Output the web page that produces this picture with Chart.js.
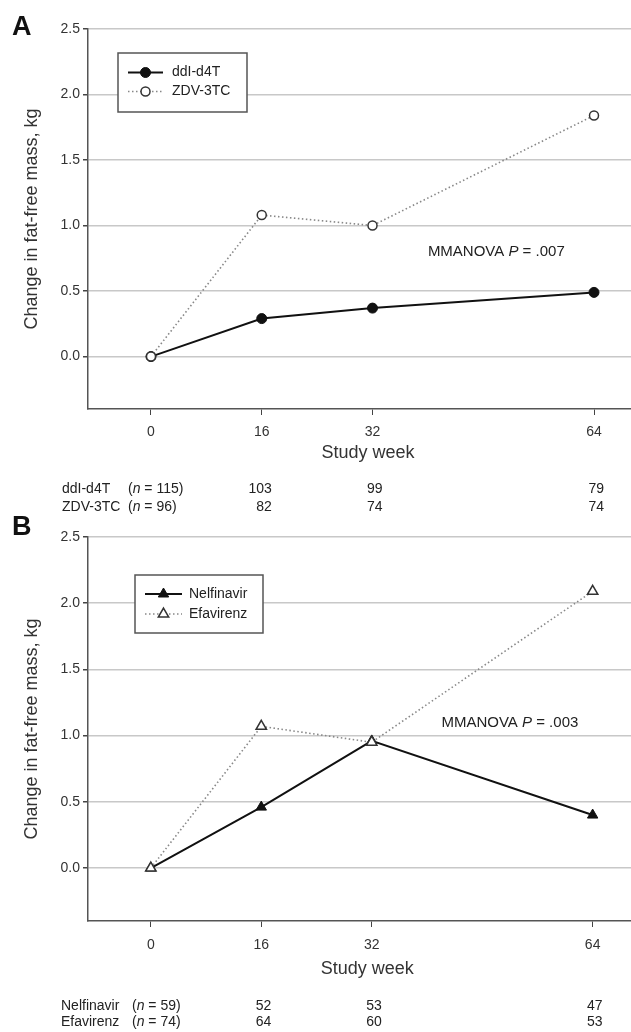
<!DOCTYPE html>
<html><head><meta charset="utf-8">
<script src="https://cdn.jsdelivr.net/npm/chart.js@4"></script>
<style>
html,body{margin:0;padding:0;background:#fff;}
#wrap{position:relative;width:631px;height:1032px;overflow:hidden;background:#fff;}
.pane{position:absolute;left:0;width:654px;}
canvas{display:block;}
</style></head><body>
<div id="wrap">
<div class="pane" style="top:0;height:524px"><canvas id="cA" width="654" height="524"></canvas></div>
<div class="pane" style="top:508px;height:524px"><canvas id="cB" width="654" height="524"></canvas></div>
</div>
<script>
// ---- data ----
const weeks = [0, 16, 32, 64];
const xTicks = [0, 16, 32, 64];
const yTicks = [0.0, 0.5, 1.0, 1.5, 2.0, 2.5];

const namesA = ['ddI-d4T', 'ZDV-3TC'];
const ddiD4T = [0, 0.29, 0.37, 0.49];
const zdv3TC = [0, 1.08, 1.00, 1.84];
const nTotalA = [115, 96];
const nDdiD4T = [103, 99, 79];
const nZdv3TC = [82, 74, 74];
const pTextA = ['MMANOVA ', 'P', ' = .007'];

const namesB = ['Nelfinavir', 'Efavirenz'];
const nelfinavir = [0, 0.46, 0.96, 0.40];
const efavirenz = [0, 1.07, 0.95, 2.09];
const nTotalB = [59, 74];
const nNelfinavir = [52, 53, 47];
const nEfavirenz = [64, 60, 53];
const pTextB = ['MMANOVA ', 'P', ' = .003'];

const FAM = '"Liberation Sans", Arial, Helvetica, sans-serif';

function drawRich(ctx, parts, x, y, size) {
  let cx = x;
  parts.forEach(p => {
    ctx.font = (p.italic ? 'italic ' : '') + size + 'px ' + FAM;
    ctx.fillText(p.t, cx, y);
    cx += ctx.measureText(p.t).width;
  });
}

const extras = {
  id: 'panelExtras',
  afterDraw(chart, args, o) {
    const ctx = chart.ctx, xs = chart.scales.x, ys = chart.scales.y;
    ctx.save();
    ctx.fillStyle = '#111';
    ctx.textAlign = 'left';
    ctx.textBaseline = 'alphabetic';
    ctx.font = 'bold 27px ' + FAM;
    ctx.fillText(o.letter, o.letterX, o.letterY);

    // legend box
    const L = o.legend;
    ctx.fillStyle = '#fff';
    ctx.fillRect(L.x, L.y, L.w, L.h);
    ctx.strokeStyle = '#555';
    ctx.lineWidth = 1.5;
    ctx.setLineDash([]);
    ctx.strokeRect(L.x, L.y, L.w, L.h);
    chart.data.datasets.forEach((ds, i) => {
      const yy = L.rows[i];
      ctx.save();
      ctx.strokeStyle = ds.borderColor;
      ctx.lineWidth = ds.borderWidth;
      ctx.setLineDash(ds.borderDash || []);
      ctx.beginPath();
      ctx.moveTo(L.lineX1, yy); ctx.lineTo(L.lineX2, yy);
      ctx.stroke();
      ctx.setLineDash([]);
      ctx.fillStyle = ds.pointBackgroundColor;
      ctx.strokeStyle = ds.pointBorderColor;
      ctx.lineWidth = ds.pointBorderWidth;
      Chart.helpers.drawPoint(ctx, {pointStyle: ds.pointStyle, radius: ds.pointRadius, borderWidth: ds.pointBorderWidth, rotation: 0}, (L.lineX1 + L.lineX2) / 2, yy);
      ctx.restore();
      ctx.fillStyle = '#222';
      ctx.textBaseline = 'middle';
      ctx.font = '14px ' + FAM;
      ctx.fillText(ds.label, L.textX, yy);
    });

    // p value annotation
    ctx.fillStyle = '#222';
    ctx.textBaseline = 'middle';
    drawRich(ctx, [{t: o.pText[0]}, {t: o.pText[1], italic: true}, {t: o.pText[2]}],
      xs.getPixelForValue(o.pAt[0]), ys.getPixelForValue(o.pAt[1]), 15);

    // n table
    o.table.forEach((row, i) => {
      const yy = o.tableRows[i];
      ctx.textAlign = 'left';
      ctx.font = '14px ' + FAM;
      ctx.fillText(row.name, o.tableNameX, yy);
      drawRich(ctx, [{t: '('}, {t: 'n', italic: true}, {t: ' = ' + row.total + ')'}], o.tableNX, yy, 14);
      ctx.textAlign = 'right';
      ctx.font = '14px ' + FAM;
      row.counts.forEach((c, j) => {
        ctx.fillText(String(c), xs.getPixelForValue(weeks[j + 1]) + 10, yy);
      });
    });
    ctx.restore();
  }
};

function pts(vals) { return weeks.map((w, i) => ({x: w, y: vals[i]})); }

function makeChart(id, datasets, extraOpts, pad, xH, tickPad) {
  return new Chart(document.getElementById(id), {
    type: 'line',
    data: {datasets},
    plugins: [extras],
    options: {
      responsive: false,
      animation: false,
      events: [],
      layout: {padding: pad},
      elements: {line: {tension: 0}},
      plugins: {legend: {display: false}, tooltip: {enabled: false}, panelExtras: extraOpts},
      scales: {
        x: {
          type: 'linear', min: -9.1, max: 71.8,
          afterBuildTicks: s => { s.ticks = xTicks.map(v => ({value: v})); },
          afterFit: s => { s.height = xH; s.paddingLeft = 0; s.paddingRight = 0; },
          ticks: {color: '#333', font: {size: 14, family: FAM}, padding: tickPad, maxRotation: 0, autoSkip: false, callback: v => String(v)},
          grid: {drawOnChartArea: false, drawTicks: true, tickLength: 6, tickColor: '#444', color: '#444'},
          border: {display: true, color: '#555', width: 1.5},
          title: {display: true, text: 'Study week', color: '#333', font: {size: 18, family: FAM}, padding: 0}
        },
        y: {
          type: 'linear', min: -0.4, max: 2.5,
          afterBuildTicks: s => { s.ticks = yTicks.map(v => ({value: v})); },
          afterFit: s => { s.width = 67; },
          ticks: {color: '#333', font: {size: 14, family: FAM}, padding: 3, callback: v => Number(v).toFixed(1)},
          grid: {color: '#c8c8c8', lineWidth: 1.5, drawTicks: true, tickLength: 5, tickColor: '#444'},
          border: {display: true, color: '#555', width: 1.5},
          title: {display: true, text: 'Change in fat-free mass, kg', color: '#333', font: {size: 18, family: FAM}, padding: 0}
        }
      }
    }
  });
}

makeChart('cA', [
  {label: namesA[0], data: pts(ddiD4T), borderColor: '#111', borderWidth: 2, pointStyle: 'circle', pointRadius: 5, pointBackgroundColor: '#111', pointBorderColor: '#111', pointBorderWidth: 1, order: 2},
  {label: namesA[1], data: pts(zdv3TC), borderColor: '#888', borderWidth: 1.6, borderDash: [1.5, 2.5], pointStyle: 'circle', pointRadius: 4.5, pointBackgroundColor: '#fff', pointBorderColor: '#333', pointBorderWidth: 1.5, order: 1}
], {
  letter: 'A', letterX: 12, letterY: 35,
  legend: {x: 118, y: 53, w: 129, h: 59, rows: [72.5, 91.5], lineX1: 128, lineX2: 163, textX: 172},
  pText: pTextA, pAt: [40.0, 0.80],
  table: [{name: namesA[0], total: nTotalA[0], counts: nDdiD4T}, {name: namesA[1], total: nTotalA[1], counts: nZdv3TC}],
  tableRows: [489, 507], tableNameX: 62, tableNX: 128
}, {left: 21, top: 29, right: 0, bottom: 60}, 55, 9);

makeChart('cB', [
  {label: namesB[0], data: pts(nelfinavir), borderColor: '#111', borderWidth: 2, pointStyle: 'triangle', pointRadius: 6, pointBackgroundColor: '#111', pointBorderColor: '#111', pointBorderWidth: 1, order: 2},
  {label: namesB[1], data: pts(efavirenz), borderColor: '#888', borderWidth: 1.6, borderDash: [1.5, 2.5], pointStyle: 'triangle', pointRadius: 6, pointBackgroundColor: '#fff', pointBorderColor: '#333', pointBorderWidth: 1.5, order: 1}
], {
  letter: 'B', letterX: 12, letterY: 27,
  legend: {x: 135, y: 67, w: 128, h: 58, rows: [86, 106], lineX1: 145, lineX2: 182, textX: 189},
  pText: pTextB, pAt: [42.1, 1.10],
  table: [{name: namesB[0], total: nTotalB[0], counts: nNelfinavir}, {name: namesB[1], total: nTotalB[1], counts: nEfavirenz}],
  tableRows: [498, 514], tableNameX: 61, tableNX: 132
}, {left: 21, top: 29, right: 0, bottom: 52}, 59, 10);
</script>
</body></html>
